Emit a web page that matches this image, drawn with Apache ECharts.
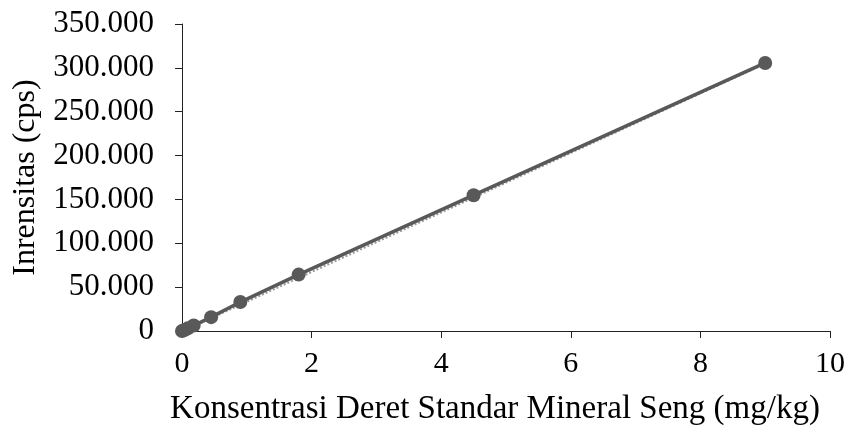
<!DOCTYPE html>
<html>
<head>
<meta charset="utf-8">
<script src="https://cdn.jsdelivr.net/npm/echarts@6/dist/echarts.min.js"></script>
<style>
  html, body { margin: 0; padding: 0; background: #fff; }
  #chart { width: 853px; height: 434px; }
</style>
</head>
<body>
<div id="chart"></div>
<script>
// konsentrasi standar (mg/kg) dan intensitas (cps)
var konsentrasi = [0, 0.045, 0.09, 0.18, 0.45, 0.9, 1.8, 4.5, 9];
var intensitas = [0, 1500, 3000, 6200, 15800, 33000, 64300, 154800, 305600];
// garis trend linear
var trendX = [0, 9];
var trendY = [-600, 304800];
var xTicks = [0, 2, 4, 6, 8, 10];
var yTicks = [0, 50000, 100000, 150000, 200000, 250000, 300000, 350000];

var font = '"Liberation Serif", "Times New Roman", serif';
var grey = '#595959';

var points = konsentrasi.map(function (x, i) { return [x, intensitas[i]]; });
var trend = trendX.map(function (x, i) { return [x, trendY[i]]; });

function formatRibuan(v) {
    if (v === 0) return '0';
    return (v / 1000) + '.000';
}

var myChart = echarts.init(document.getElementById('chart'));
myChart.setOption({
    animation: false,
    grid: { left: 182, right: 23, top: 24, bottom: 103, outerBoundsMode: 'none', containLabel: false },
    xAxis: {
        type: 'value',
        min: xTicks[0],
        max: xTicks[xTicks.length - 1],
        interval: 2,
        name: 'Konsentrasi Deret Standar Mineral Seng (mg/kg)',
        nameLocation: 'middle',
        nameGap: 62,
        nameTextStyle: { fontFamily: font, fontSize: 33, color: '#000', padding: [0, 22, 0, 0] },
        axisLine: { show: true, onZero: false, lineStyle: { color: '#222', width: 1 } },
        axisTick: { show: true, length: 7, lineStyle: { color: '#222' } },
        axisLabel: { margin: 18, fontFamily: font, fontSize: 30, color: '#000' },
        splitLine: { show: false }
    },
    yAxis: {
        type: 'value',
        min: yTicks[0],
        max: yTicks[yTicks.length - 1],
        interval: 50000,
        name: 'Inrensitas (cps)',
        nameLocation: 'middle',
        nameGap: 140,
        nameTextStyle: { fontFamily: font, fontSize: 32, color: '#000' },
        axisLine: { show: true, lineStyle: { color: '#222', width: 1 } },
        axisTick: { show: true, length: 7, lineStyle: { color: '#222' } },
        axisLabel: { margin: 28, fontFamily: font, fontSize: 31, color: '#000', formatter: formatRibuan },
        splitLine: { show: false }
    },
    series: [
        {
            type: 'line',
            data: trend,
            symbol: 'none',
            lineStyle: { color: '#9a9a9a', width: 2, type: 'dotted' },
            z: 1
        },
        {
            type: 'line',
            data: points,
            symbol: 'circle',
            symbolSize: 14,
            itemStyle: { color: grey },
            lineStyle: { color: grey, width: 3.5 },
            z: 2
        }
    ]
});
</script>
</body>
</html>
